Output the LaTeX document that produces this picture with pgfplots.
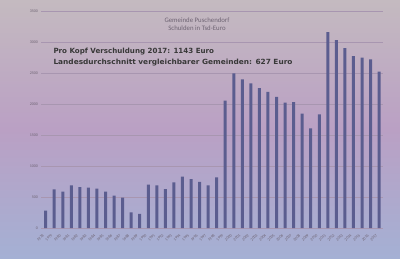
\documentclass[border=0pt]{standalone}
\usepackage{pgfplots}
\pgfplotsset{compat=1.18}
\usepackage{fontspec}
\setmainfont{Carlito}
\newfontfamily\boldfont{DejaVu Sans}
\definecolor{barc}{HTML}{5B5D8F}
\definecolor{bgtop}{RGB}{196,186,192}
\definecolor{bgmid}{RGB}{186,160,196}
\definecolor{bgbot}{RGB}{164,176,212}
\definecolor{gridc}{RGB}{168,150,176}
\definecolor{txtc}{RGB}{110,100,115}
\pgfplotstableread{
x y
0 280
1 624
2 585
3 688
4 661
5 650
6 634
7 585
8 521
9 489
10 253
11 226
12 698
13 688
14 629
15 737
16 827
17 790
18 742
19 688
20 818
21 2053
22 2495
23 2398
24 2334
25 2258
26 2194
27 2113
28 2021
29 2032
30 1844
31 1608
32 1834
33 3161
34 3032
35 2903
36 2774
37 2747
38 2721
39 2521
}\debts
\begin{document}
\begin{tikzpicture}[x=1pt,y=1pt]
\shade[top color=bgtop, bottom color=bgbot, middle color=bgmid] (0,0) rectangle (400,258);
\useasboundingbox (0,0) rectangle (400,258);
\begin{axis}[at={(41.4pt,30pt)}, anchor=south west, scale only axis,
  width=342pt, height=217pt,
  xmin=-0.5, xmax=39.5, ymin=0, ymax=3500,
  ytick={0,500,...,3500},
  xtick=data,
  xticklabels={1978,1979,1980,1981,1982,1983,1984,1985,1986,1987,1988,1989,1990,1991,1992,1993,1994,1995,1996,1997,1998,1999,2000,2001,2002,2003,2004,2005,2006,2007,2008,2009,2010,2011,2012,2013,2014,2015,2016,2017},
  x tick label style={rotate=45, anchor=east, font=\fontsize{4}{4}\selectfont, color=txtc},
  y tick label style={font=\fontsize{4}{4}\selectfont, color=txtc},
  /pgf/number format/assume math mode=true,
  /pgf/number format/1000 sep={},
  axis line style={draw=none},
  tick style={draw=none},
  ymajorgrids, grid style={color=gridc, line width=0.35pt},
  ybar, bar width=3pt,
]
\addplot[fill=barc, draw=none] table[x=x,y=y] {\debts};
\end{axis}
\node[color=txtc, font=\fontsize{6.8}{7.5}\selectfont, align=center] at (197,234) {Gemeinde Puschendorf\\Schulden in Tsd-Euro};
\node[anchor=west, color=black!78, font=\boldfont\bfseries\fontsize{7.1}{8}\selectfont] at (50,206) {Pro Kopf Verschuldung 2017: 1143 Euro};
\node[anchor=west, color=black!78, font=\boldfont\bfseries\fontsize{7.1}{8}\selectfont] at (50,195) {\scalebox{1.04}[1]{Landesdurchschnitt vergleichbarer Gemeinden: 627 Euro}};
\end{tikzpicture}
\end{document}
